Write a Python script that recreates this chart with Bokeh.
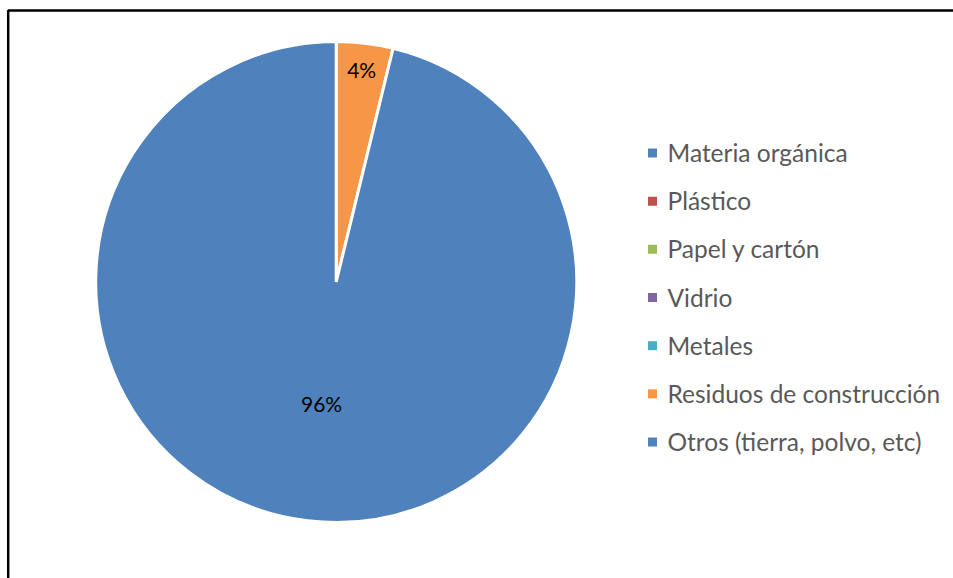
import math
from bokeh.plotting import figure
from bokeh.models import Range1d, ColumnDataSource
from bokeh.core.properties import value
from bokeh.embed import file_html
from bokeh.resources import INLINE

# ---- data ----
categories = ["Materia orgánica", "Plástico", "Papel y cartón", "Vidrio",
              "Metales", "Residuos de construcción", "Otros (tierra, polvo, etc)"]
values = [0.0, 0.0, 0.0, 0.0, 0.0, 3.8, 96.2]
colors = ["#4F81BD", "#C0504D", "#9BBB59", "#8064A2", "#4BACC6", "#F79646", "#4F81BD"]
label_radius_frac = [0.6, 0.6, 0.6, 0.6, 0.6, 0.89, 0.51]

# ---- layout (pixel-like data space, y up) ----
W, H = 953, 578
cx, cy, R = 335.7, H - 281.5, 240.5
FONT = "Lato"

p = figure(width=W, height=H, output_backend="svg", toolbar_location=None,
           x_range=Range1d(0, W), y_range=Range1d(0, H), min_border=0)
p.axis.visible = False
p.grid.visible = False
p.outline_line_color = None
p.background_fill_color = "white"
p.border_fill_color = "white"

total = sum(values)
starts, ends, cols, lx, ly, ltxt = [], [], [], [], [], []
cum = 0.0
for v, c, rf in zip(values, colors, label_radius_frac):
    if v <= 0:
        continue
    f0 = cum / total
    f1 = (cum + v) / total
    cum += v
    starts.append(math.pi / 2 - 2 * math.pi * f0)
    ends.append(math.pi / 2 - 2 * math.pi * f1)
    cols.append(c)
    mid = math.pi / 2 - 2 * math.pi * (f0 + f1) / 2
    lx.append(cx + rf * R * math.cos(mid))
    ly.append(cy + rf * R * math.sin(mid))
    ltxt.append(f"{round(100 * v / total)}%")

src = ColumnDataSource(dict(start=starts, end=ends, color=cols))
p.wedge(x=cx, y=cy, radius=R, start_angle="start", end_angle="end",
        direction="clock", fill_color="color", line_color="white",
        line_width=3, source=src)

p.text(x=lx, y=ly, text=ltxt, text_font=value(FONT), text_font_size="21px",
       text_color="#000000", text_align="center", text_baseline="middle")

# legend
leg_sq_x = 652.0
leg_tx = 667.0
leg_top = H - 152.5
leg_step = 48.17
sq_y = [leg_top - i * leg_step for i in range(len(categories))]
p.rect(x=[leg_sq_x] * len(categories), y=sq_y, width=9, height=9,
       fill_color=colors, line_color=None)
p.text(x=[leg_tx] * len(categories), y=[y + 0.5 for y in sq_y], text=categories,
       text_font=value(FONT), text_font_size="24.5px", text_color="#595959",
       text_align="left", text_baseline="alphabetic")

# chart frame (top and left edges visible)
p.line(x=[7.7, 7.7, W], y=[0, H - 10, H - 10], line_color="black", line_width=2.5)

open("out.html", "w").write(file_html(p, INLINE))
